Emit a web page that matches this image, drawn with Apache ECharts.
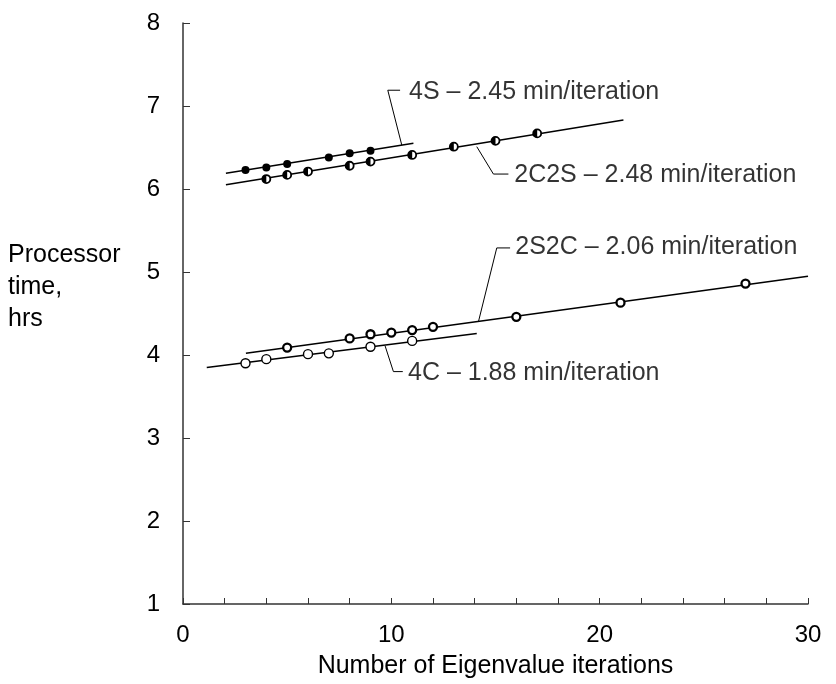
<!DOCTYPE html>
<html>
<head>
<meta charset="utf-8">
<script src="https://cdn.jsdelivr.net/npm/echarts@6/dist/echarts.min.js"></script>
<style>
  html, body { margin: 0; padding: 0; background: #fff; }
  #chart { width: 836px; height: 684px; }
</style>
</head>
<body>
<div id="chart"></div>
<script>
// 数据
const x4S = [3, 4, 5, 7, 8, 9];
const y4S = [6.23, 6.26, 6.30, 6.38, 6.43, 6.46];
const fit4S = [[2.06, 6.19], [11.06, 6.55]];

const x2C2S = [4, 5, 6, 8, 9, 11, 13, 15, 17];
const y2C2S = [6.12, 6.17, 6.21, 6.28, 6.33, 6.41, 6.51, 6.58, 6.67];
const fit2C2S = [[2.06, 6.05], [21.14, 6.83]];

const x2S2C = [5, 8, 9, 10, 11, 12, 16, 21, 27];
const y2S2C = [4.09, 4.20, 4.25, 4.27, 4.30, 4.34, 4.46, 4.63, 4.86];
const fit2S2C = [[3.02, 4.02], [30.0, 4.95]];

const x4C = [3, 4, 6, 7, 9, 11];
const y4C = [3.90, 3.95, 4.01, 4.02, 4.10, 4.17];
const fit4C = [[1.14, 3.85], [14.1, 4.26]];

// 注释引线（数据坐标）
const leader4S = [[10.50, 6.53], [9.83, 7.19], [10.42, 7.19]];
const leader2C2S = [[14.1, 6.51], [14.9, 6.18], [15.62, 6.18]];
const leader2S2C = [[14.18, 4.40], [15.06, 5.29], [15.70, 5.29]];
const leader4C = [[9.70, 4.11], [10.1, 3.80], [10.55, 3.80]];

const noteTexts = [
  '4S \u2013 2.45 min/iteration',
  '2C2S \u2013 2.48 min/iteration',
  '2S2C \u2013 2.06 min/iteration',
  '4C \u2013 1.88 min/iteration'
];
const notePos = [[10.85, 7.17], [15.9, 6.17], [15.95, 5.30], [10.8, 3.78]];

const FONT = '"Liberation Sans", Arial, sans-serif';

function pairs(xs, ys) {
  return xs.map((x, i) => [x, ys[i]]);
}

function fitLine(data) {
  return {
    type: 'line',
    data: data,
    symbol: 'none',
    silent: true,
    lineStyle: { color: '#000', width: 1.5 },
    z: 2
  };
}

function leaderLine(data) {
  return {
    type: 'line',
    data: data,
    symbol: 'none',
    silent: true,
    lineStyle: { color: '#000', width: 1 },
    z: 2
  };
}

const chart = echarts.init(document.getElementById('chart'));

const option = {
  backgroundColor: '#fff',
  animation: false,
  grid: { left: 183, right: 28, top: 23, bottom: 80 },
  xAxis: {
    type: 'value',
    min: 0,
    max: 30,
    interval: 2,
    name: 'Number of Eigenvalue iterations',
    nameLocation: 'middle',
    nameGap: 50,
    nameTextStyle: { color: '#000', fontSize: 25, fontFamily: FONT },
    axisLine: { show: true, lineStyle: { color: '#333', width: 1.5 } },
    axisTick: { show: true, inside: true, length: 6, lineStyle: { color: '#333', width: 1 } },
    axisLabel: {
      color: '#000',
      fontSize: 24,
      fontFamily: FONT,
      margin: 19,
      formatter: function (v) { return v % 10 === 0 ? String(v) : ''; }
    },
    splitLine: { show: false }
  },
  yAxis: {
    type: 'value',
    min: 1,
    max: 8,
    interval: 1,
    axisLine: { show: true, lineStyle: { color: '#333', width: 1.5 } },
    axisTick: { show: true, inside: true, length: 7, lineStyle: { color: '#333', width: 1 } },
    axisLabel: { color: '#000', fontSize: 24, fontFamily: FONT, margin: 23 },
    splitLine: { show: false }
  },
  graphic: [{
    type: 'text',
    left: 8,
    top: 239,
    style: {
      text: 'Processor\ntime,\nhrs',
      fill: '#000',
      font: '25px ' + FONT,
      lineHeight: 32
    }
  }],
  series: [
    fitLine(fit4S),
    fitLine(fit2C2S),
    fitLine(fit2S2C),
    fitLine(fit4C),
    leaderLine(leader4S),
    leaderLine(leader2C2S),
    leaderLine(leader2S2C),
    leaderLine(leader4C),
    {
      name: '4S',
      type: 'scatter',
      data: pairs(x4S, y4S),
      symbol: 'circle',
      symbolSize: 8,
      itemStyle: { color: '#000', opacity: 1 },
      z: 5
    },
    {
      name: '2C2S',
      type: 'scatter',
      data: pairs(x2C2S, y2C2S),
      symbol: 'circle',
      symbolSize: 8,
      itemStyle: { color: '#fff', borderColor: '#000', borderWidth: 1.8, opacity: 1 },
      z: 5
    },
    {
      name: '2C2S half',
      type: 'scatter',
      data: pairs(x2C2S, y2C2S),
      symbol: 'path://M10,0 A10,10 0 0 0 10,20 Z',
      symbolKeepAspect: true,
      symbolSize: 8,
      symbolOffset: [-2, 0],
      itemStyle: { color: '#000', opacity: 1 },
      z: 6
    },
    {
      name: '2S2C',
      type: 'scatter',
      data: pairs(x2S2C, y2S2C),
      symbol: 'circle',
      symbolSize: 8,
      itemStyle: { color: '#fff', borderColor: '#000', borderWidth: 2.3, opacity: 1 },
      z: 5
    },
    {
      name: '4C',
      type: 'scatter',
      data: pairs(x4C, y4C),
      symbol: 'circle',
      symbolSize: 9,
      itemStyle: { color: '#fff', borderColor: '#000', borderWidth: 1.4, opacity: 1 },
      z: 5
    },
    {
      name: 'notes',
      type: 'scatter',
      silent: true,
      symbolSize: 0,
      data: notePos.map((p, i) => ({ value: p, name: noteTexts[i] })),
      label: {
        show: true,
        position: 'right',
        distance: 0,
        formatter: '{b}',
        color: '#000',
        fontSize: 25,
        fontFamily: FONT
      },
      z: 7
    }
  ]
};

chart.setOption(option);
</script>
</body>
</html>
